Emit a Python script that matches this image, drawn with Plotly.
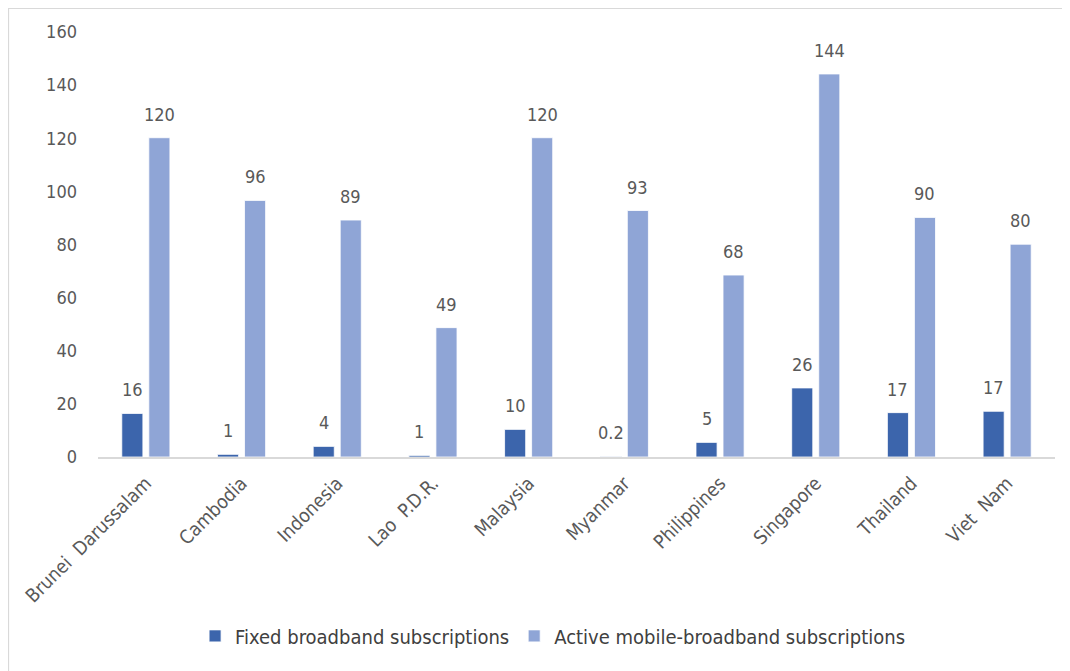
#!/usr/bin/env python
# coding: utf-8

"""
Fixed vs. mobile broadband subscriptions per 100 inhabitants, ASEAN countries.
"""

import plotly.graph_objects as go

countries = ['Brunei  Darussalam', 'Cambodia', 'Indonesia', 'Lao  P.D.R.', 'Malaysia',
             'Myanmar', 'Philippines', 'Singapore', 'Thailand', 'Viet  Nam']

fixed_values = [16.4, 1.0, 4.0, 0.6, 10.4, 0.2, 5.5, 26.0, 16.7, 17.2]
fixed_labels = ['16', '1', '4', '1', '10', '0.2', '5', '26', '17', '17']

mobile_values = [120.2, 96.6, 89.2, 48.7, 120.2, 92.8, 68.5, 144.2, 90.2, 80.1]
mobile_labels = ['120', '96', '89', '49', '120', '93', '68', '144', '90', '80']

FONT = '"Liberation Sans Narrow", "DejaVu Sans Condensed", Lato, sans-serif'
GREY = '#595959'

fig = go.Figure()

fig.add_trace(go.Bar(
    x=countries,
    y=fixed_values,
    name='Fixed broadband subscriptions',
    marker=dict(color='#3c65ac', line=dict(color='#ffffff', width=0.8)),
))

fig.add_trace(go.Bar(
    x=countries,
    y=mobile_values,
    name='Active mobile-broadband subscriptions',
    marker=dict(color='#8fa5d6', line=dict(color='#ffffff', width=0.8)),
))

# value labels sit a bit higher above the bars than plotly's own outside text
for values, labels, shift in [(fixed_values, fixed_labels, -13.5),
                              (mobile_values, mobile_labels, 13.5)]:
    for c, v, t in zip(countries, values, labels):
        fig.add_annotation(
            x=c, y=v, text=t,
            xshift=shift, yshift=11,
            yanchor='bottom', showarrow=False,
            font=dict(size=18, color=GREY, family=FONT),
        )

# light frame around the whole chart area
fig.add_shape(type='rect', xref='paper', yref='paper',
              x0=-0.0935, x1=1.03, y0=-0.56, y1=1.0553,
              line=dict(color='#d9d9d9', width=1.2), layer='below')

fig.update_layout(
    width=1062,
    height=663,
    margin=dict(l=90, r=15, t=24, b=214),
    paper_bgcolor='white',
    plot_bgcolor='white',
    barmode='group',
    bargap=0.435,
    bargroupgap=0.22,
    font=dict(family=FONT, size=18, color=GREY),
    showlegend=True,
    legend=dict(
        orientation='h',
        x=0.475, xanchor='center',
        y=-0.375, yanchor='top',
        font=dict(size=20, color='#404040', family=FONT),
        itemwidth=30,
        traceorder='normal',
    ),
    xaxis=dict(
        tickangle=-45,
        showline=True,
        linecolor='#d9d9d9',
        linewidth=1.5,
        ticks='',
        ticklabelstandoff=6,
        tickfont=dict(size=19, color=GREY),
    ),
    yaxis=dict(
        range=[0, 160],
        dtick=20,
        showgrid=False,
        zeroline=False,
        showline=False,
        ticks='',
        ticklabelstandoff=20,
        tickfont=dict(size=18, color=GREY),
    ),
)

fig.write_html("out.html")
